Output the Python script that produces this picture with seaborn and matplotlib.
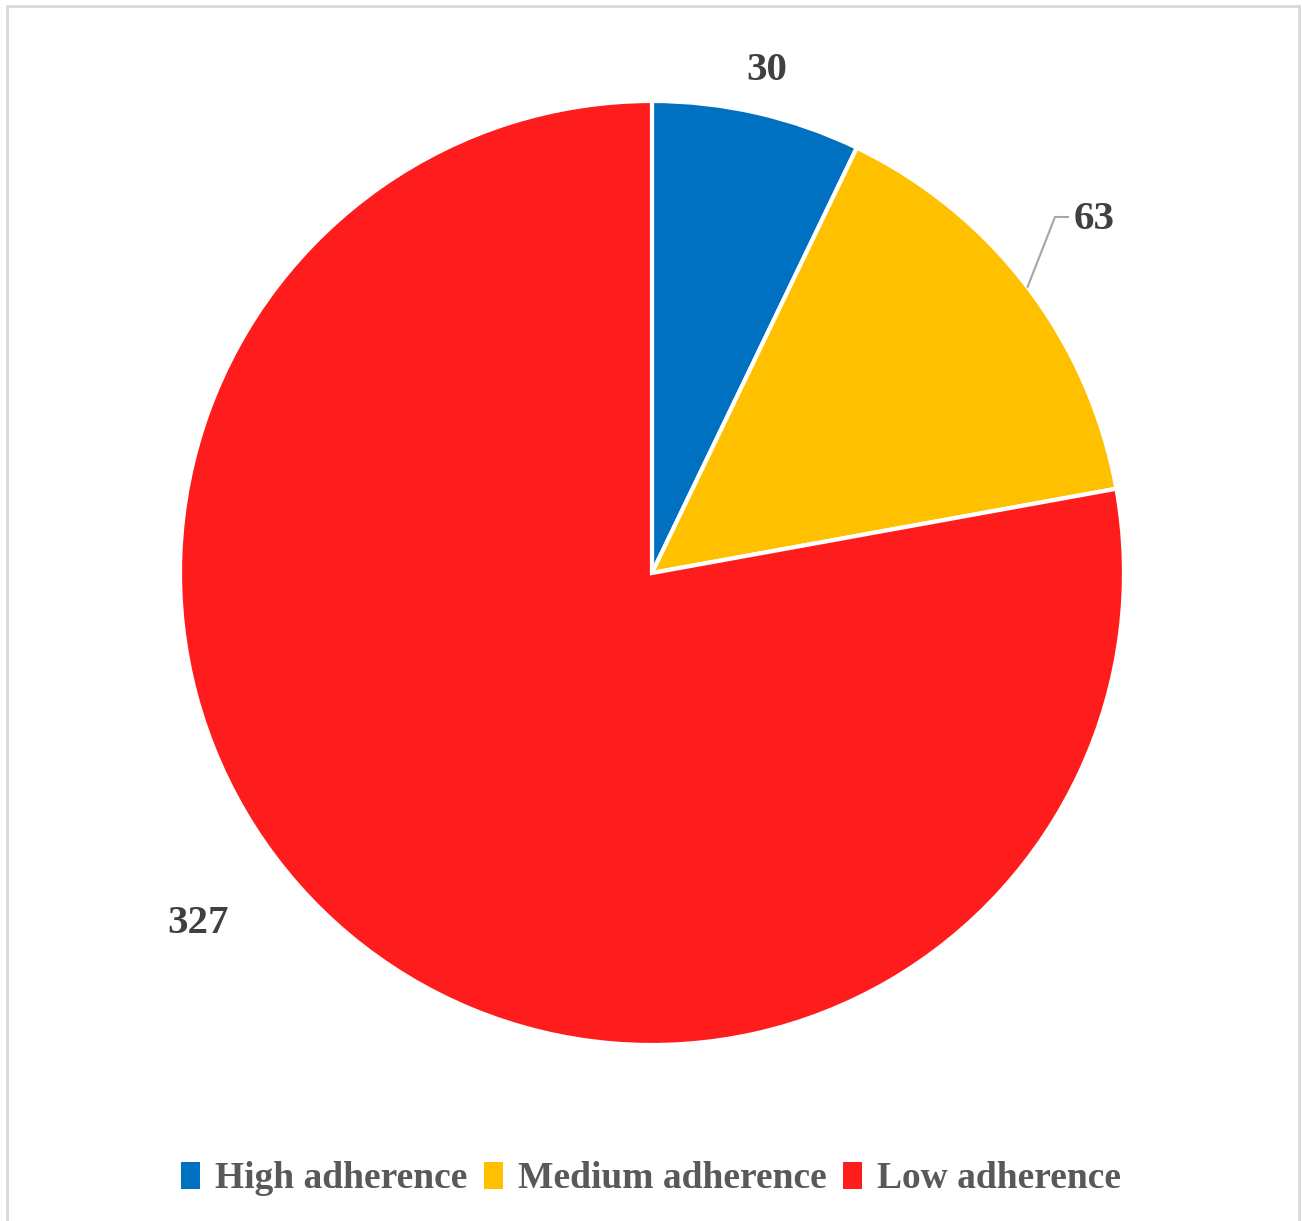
import numpy as np
import matplotlib
matplotlib.use("Agg")
import matplotlib.pyplot as plt
from matplotlib.patches import Patch, Rectangle
import seaborn as sns

# Adherence groups and patient counts
categories = ["High adherence", "Medium adherence", "Low adherence"]
counts = [30, 63, 327]
colors = ["#0070C0", "#FFC000", "#FF1C1C"]

sns.set_theme(style="white")
plt.rcParams["font.family"] = ["Liberation Serif", "DejaVu Serif"]

W, H, DPI = 1302, 1221, 100
fig = plt.figure(figsize=(W / DPI, H / DPI), dpi=DPI)
fig.patch.set_facecolor("white")

# Axes spanning the whole figure, scaled so one data unit = pie radius
cx, cy, rpx = 652, H - 573, 472
ax = fig.add_axes([0, 0, 1, 1])

wedges, _ = ax.pie(counts, colors=colors, startangle=90, counterclock=False,
                   radius=1.0, center=(0, 0), frame=True,
                   wedgeprops=dict(edgecolor="white", linewidth=3))
ax.set_xlim(-cx / rpx, (W - cx) / rpx)
ax.set_ylim(-cy / rpx, (H - cy) / rpx)
ax.set_aspect("auto")
ax.axis("off")

label_color = "#404040"
total = sum(counts)
mids = []
acc = 0
for c in counts:
    mids.append(90 - (acc + c / 2) / total * 360)
    acc += c

# Value labels
t0 = np.deg2rad(mids[0])
ax.text(1.093 * np.cos(t0), 1.093 * np.sin(t0), str(counts[0]),
        ha="center", va="center", fontsize=29.5, fontweight="bold", color=label_color)

t1 = np.deg2rad(mids[1])
x0, y0 = 1.0 * np.cos(t1), 1.0 * np.sin(t1)
lx, ly = (1055 - cx) / rpx, (H - 217 - cy) / rpx
ax.plot([x0, lx, lx + 0.028], [y0, ly, ly], color="#A6A6A6", lw=1.5)
ax.text(lx + 0.04, ly - 0.005, str(counts[1]), ha="left", va="center",
        fontsize=29.5, fontweight="bold", color=label_color)

t2 = np.deg2rad(-142.3)
ax.text(1.215 * np.cos(t2), 1.215 * np.sin(t2), str(counts[2]),
        ha="center", va="center", fontsize=29.5, fontweight="bold", color=label_color)

# Legend
handles = [Patch(facecolor=c, edgecolor="none") for c in colors]
fig.legend(handles, categories, loc="center", bbox_to_anchor=(0.5, 1 - 1179 / H),
           ncol=3, frameon=False, handlelength=0.5, handleheight=0.75,
           handletextpad=0.4, columnspacing=0.45,
           prop=dict(family="Liberation Serif", weight="bold", size=27),
           labelcolor="#595959")

# Chart border
fig.patches.append(Rectangle((7 / W, -0.01), (1299 - 7) / W, 1.01 - 6 / H,
                             transform=fig.transFigure, fill=False,
                             edgecolor="#D9D9D9", linewidth=2))

fig.savefig("out.png", dpi=DPI, facecolor="white")
